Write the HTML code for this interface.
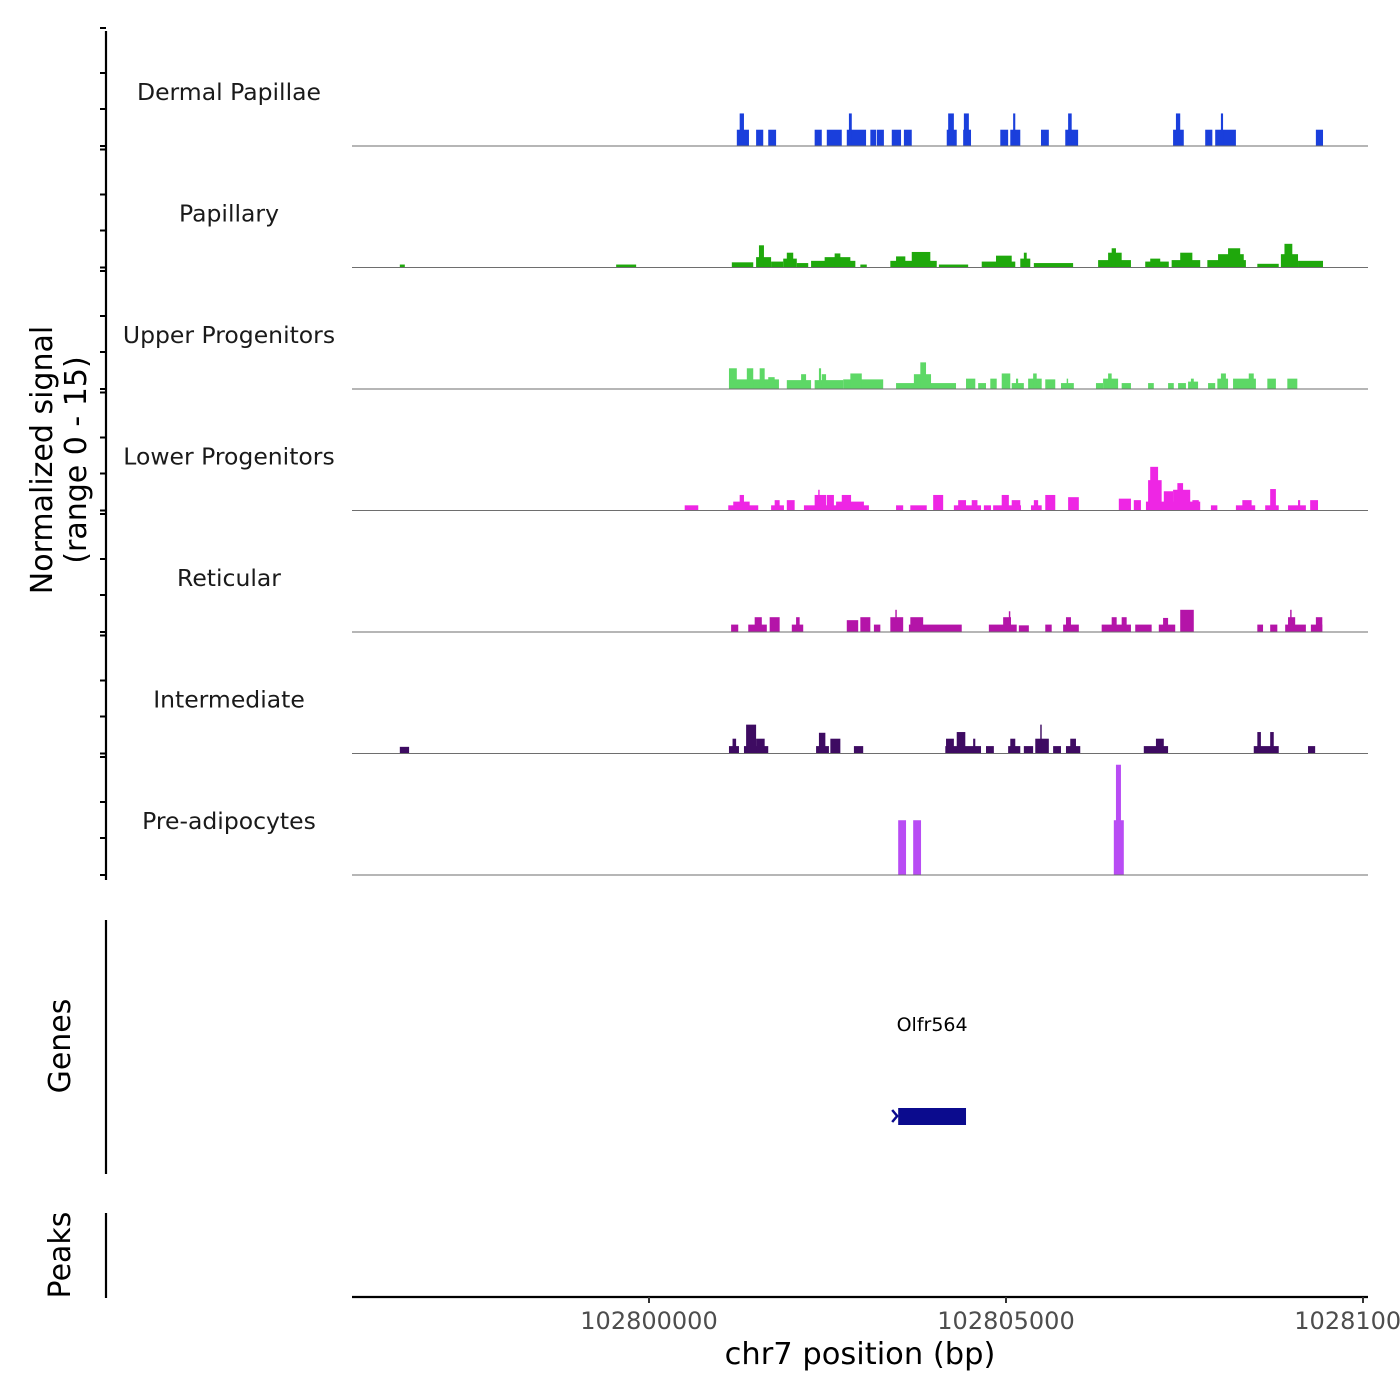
<!DOCTYPE html>
<html><head><meta charset="utf-8"><style>
body{margin:0;background:#fff}
svg{display:block;font-family:"DejaVu Sans","Liberation Sans",sans-serif}
</style></head><body>
<svg id="chart" width="1400" height="1400" viewBox="0 0 1400 1400">
<g id="marks"></g>
<g id="axes"></g>
</svg>
<script>
// Data: positions in kb relative to chr7:102800000; values = normalized signal (0-15)
const trackNames=["Dermal Papillae","Papillary","Upper Progenitors","Lower Progenitors","Reticular","Intermediate","Pre-adipocytes"];
const trackColors=["#1a3fdc","#1fa80c","#5dd866","#ee26e4","#b414a8","#3e0b62","#b84cf4"];
const dpStart=[1.23,1.27,1.50,1.67,2.32,2.49,2.77,2.80,3.10,3.19,3.40,3.57,4.17,4.19,4.40,4.41,4.92,5.06,5.10,5.49,5.83,5.87,7.34,7.38,7.79,7.93,8.01,9.34];
const dpEnd=[1.40,1.33,1.60,1.78,2.42,2.70,3.04,2.84,3.18,3.29,3.53,3.68,4.31,4.27,4.51,4.48,5.03,5.20,5.13,5.60,6.01,5.92,7.49,7.44,7.89,8.22,8.04,9.44];
const dpVal=[2.2,4.4,2.2,2.2,2.2,2.2,2.2,4.4,2.2,2.2,2.2,2.2,2.2,4.4,2.2,4.4,2.2,2.2,4.4,2.2,2.2,4.4,2.2,4.4,2.2,2.2,4.4,2.2];
const paStart=[-3.49,-0.46,1.16,1.50,1.54,1.71,1.88,1.93,2.07,2.27,2.46,2.60,2.96,3.38,3.46,3.68,4.06,4.66,4.86,5.20,5.25,5.39,6.29,6.43,6.48,6.95,7.02,7.32,7.44,7.82,7.97,8.11,8.52,8.85,8.90,9.09];
const paEnd=[-3.42,-0.18,1.46,1.71,1.61,1.88,2.07,2.02,2.23,2.89,2.82,2.68,3.05,4.03,3.59,3.94,4.47,5.13,5.08,5.34,5.29,5.94,6.75,6.62,6.54,7.28,7.16,7.72,7.61,8.36,8.33,8.28,8.82,9.09,9.01,9.44];
const paVal=[0.4,0.4,0.7,1.4,3.0,0.8,1.2,2.0,0.6,0.9,1.4,1.9,0.4,0.9,1.5,2.1,0.4,0.8,1.6,1.2,2.0,0.6,1.0,2.0,2.6,0.8,1.2,1.0,2.0,1.0,1.8,2.6,0.5,1.8,3.2,0.9];
const upStart=[1.12,1.12,1.37,1.55,1.67,1.93,2.13,2.32,2.38,2.42,2.72,2.82,3.46,3.71,3.80,4.44,4.61,4.78,4.94,5.08,5.14,5.31,5.38,5.55,5.77,5.85,6.26,6.36,6.43,6.62,6.99,7.27,7.41,7.55,7.59,7.83,7.96,8.01,8.18,8.40,8.66,8.94];
const upEnd=[1.82,1.23,1.46,1.62,1.76,2.27,2.20,2.72,2.41,2.48,3.28,2.98,4.30,3.95,3.88,4.57,4.72,4.87,5.06,5.25,5.17,5.50,5.43,5.69,5.95,5.87,6.36,6.57,6.48,6.75,7.07,7.35,7.52,7.69,7.63,7.93,8.11,8.08,8.50,8.47,8.78,9.08];
const upVal=[1.3,2.8,2.8,2.8,1.6,1.2,2.0,1.2,2.8,2.0,1.3,2.1,0.8,2.0,3.6,1.4,0.8,1.4,2.1,0.8,1.4,1.4,2.1,1.3,0.8,1.4,0.8,1.4,2.1,0.8,0.8,0.8,0.8,1.0,1.4,0.8,1.4,2.1,1.4,2.1,1.4,1.4];
const lpStart=[0.50,1.11,1.18,1.27,1.71,1.76,1.93,2.17,2.32,2.37,2.49,2.70,2.62,3.46,3.66,3.98,4.27,4.33,4.52,4.69,4.82,4.94,5.08,5.35,5.39,5.55,5.87,6.58,6.79,6.96,6.99,7.02,7.21,7.34,7.40,7.61,7.87,8.22,8.31,8.63,8.70,8.95,9.09,9.26];
const lpEnd=[0.69,1.53,1.41,1.33,1.89,1.83,2.04,3.08,2.48,2.39,2.59,2.83,3.01,3.56,3.89,4.12,4.65,4.44,4.60,4.79,5.21,5.04,5.20,5.50,5.45,5.69,6.02,6.75,6.89,7.72,7.18,7.13,7.34,7.58,7.48,7.70,7.96,8.49,8.44,8.82,8.78,9.20,9.12,9.37];
const lpVal=[0.7,0.7,1.2,2.1,0.7,1.4,1.4,0.7,2.1,2.8,2.1,2.1,1.2,0.7,0.7,2.1,0.7,1.4,1.4,0.7,0.7,2.1,1.4,0.7,1.4,2.1,1.8,1.6,1.4,1.2,4.1,5.9,2.6,2.8,3.7,1.4,0.7,0.7,1.4,0.7,2.9,0.7,1.4,1.4];
const reStart=[1.15,1.39,1.48,1.69,2.00,2.06,2.77,2.96,3.15,3.38,3.45,3.64,3.66,4.76,4.86,4.96,5.04,5.18,5.55,5.80,5.84,6.34,6.48,6.62,6.81,7.14,7.20,7.44,8.52,8.70,8.91,8.95,8.98,9.27,9.34];
const reEnd=[1.25,1.65,1.58,1.83,2.16,2.11,2.93,3.10,3.24,3.56,3.47,4.38,3.84,4.86,5.15,5.07,5.06,5.32,5.64,6.02,5.91,6.75,6.55,6.69,7.04,7.37,7.27,7.63,8.60,8.80,9.20,9.05,9.00,9.43,9.43];
const reVal=[1.0,1.0,2.0,2.0,1.0,2.0,1.6,2.0,1.0,2.0,3.0,1.0,2.0,1.0,1.0,2.0,2.8,0.9,1.0,1.0,2.0,1.0,2.0,2.0,1.0,1.0,1.9,3.0,1.0,1.0,1.0,2.0,3.0,1.0,2.0];
const inStart=[-3.49,1.12,1.17,1.33,1.36,1.50,2.34,2.38,2.54,2.87,4.15,4.16,4.31,4.54,4.72,5.03,5.06,5.25,5.41,5.48,5.66,5.84,5.90,6.93,7.10,8.47,8.52,8.70,9.23];
const inEnd=[-3.36,1.26,1.22,1.67,1.50,1.62,2.52,2.47,2.68,3.00,4.65,4.27,4.43,4.57,4.83,5.20,5.13,5.38,5.60,5.50,5.77,6.04,5.98,7.27,7.21,8.82,8.57,8.75,9.33];
const inVal=[0.9,1.0,2.0,1.0,3.9,2.0,1.0,2.8,2.0,1.0,1.0,2.0,2.9,2.0,1.0,1.0,2.0,1.0,2.0,3.9,1.0,1.0,2.0,1.0,2.0,1.0,2.9,2.9,1.0];
const prStart=[3.49,3.70,6.51,6.54];
const prEnd=[3.60,3.81,6.65,6.61];
const prVal=[7.4,7.4,7.4,14.9];
const xTicks=[0,5,10];
const xTickLabels=["102800000","102805000","102810000"];
const geneStart=3.49, geneEnd=4.44, geneName="Olfr564";

const starts=[dpStart,paStart,upStart,lpStart,reStart,inStart,prStart];
const ends=[dpEnd,paEnd,upEnd,lpEnd,reEnd,inEnd,prEnd];
const vals=[dpVal,paVal,upVal,lpVal,reVal,inVal,prVal];

const NS="http://www.w3.org/2000/svg";
const X0=352,X1=1368;
function xs(kb){return 649+kb*71.4;}
function base(i){return 146+i*121.5;}
function ys(v,i){return base(i)-v*7.4;}
function mk(tag,attrs,parent){const e=document.createElementNS(NS,tag);for(const k in attrs)e.setAttribute(k,attrs[k]);parent.appendChild(e);return e;}
const marks=document.getElementById('marks');
const axes=document.getElementById('axes');

for(let i=0;i<trackNames.length;i++){
  const g=mk('g',{},marks);
  
  
  for(let j=0;j<starts[i].length;j++){
    const x1=Math.max(X0,xs(starts[i][j])),x2=Math.min(X1,xs(ends[i][j]));
    const r=mk('rect',{x:x1,y:ys(vals[i][j],i),width:Math.max(0.8,x2-x1),height:vals[i][j]*7.4,fill:trackColors[i]},g);
    
    
  }
  const bl=mk('line',{x1:X0,x2:X1,y1:base(i),y2:base(i),stroke:'#6e6e6e','stroke-width':1},g);
  
  
  const t=mk('text',{x:229,y:base(i)-46,'text-anchor':'middle','font-size':'23.5',fill:'#1a1a1a'},g);
  t.textContent=trackNames[i];
  
  
  [0,37,73,118].forEach(d=>{
    const tk=mk('line',{x1:100,x2:106,y1:base(i)-d,y2:base(i)-d,stroke:'#000','stroke-width':2},axes);
    
    
  });
}
let l=mk('line',{x1:106,x2:106,y1:31,y2:880,stroke:'#000','stroke-width':2.2},axes);


l=mk('line',{x1:106,x2:106,y1:920,y2:1174,stroke:'#000','stroke-width':2.2},axes);


l=mk('line',{x1:106,x2:106,y1:1213,y2:1298,stroke:'#000','stroke-width':2.2},axes);


let yt=mk('text',{transform:'translate(52,460) rotate(-90)','text-anchor':'middle','font-size':'30',fill:'#000'},axes);


let ts=mk('tspan',{x:0,y:0},yt);ts.textContent='Normalized signal';
ts=mk('tspan',{x:0,y:34},yt);ts.textContent='(range 0 - 15)';
let gt=mk('text',{transform:'translate(70,1046) rotate(-90)','text-anchor':'middle','font-size':'30',fill:'#000'},axes);
gt.textContent='Genes';


let pt=mk('text',{transform:'translate(70,1255) rotate(-90)','text-anchor':'middle','font-size':'30',fill:'#000'},axes);
pt.textContent='Peaks';


const gr=mk('rect',{x:xs(geneStart),y:1108,width:xs(geneEnd)-xs(geneStart),height:17,fill:'#0b0b8e'},marks);


const ga=mk('path',{d:'M'+(xs(geneStart)-6)+' 1110 L'+(xs(geneStart)-1)+' 1116 L'+(xs(geneStart)-6)+' 1122',stroke:'#0b0b8e','stroke-width':2.5,fill:'none'},marks);


const gl=mk('text',{x:(xs(geneStart)+xs(geneEnd))/2,y:1031,'text-anchor':'middle','font-size':'19',fill:'#000'},marks);
gl.textContent=geneName;


l=mk('line',{x1:X0,x2:X1,y1:1297,y2:1297,stroke:'#000','stroke-width':2.2},axes);


xTicks.forEach((t,k)=>{
  const tk=mk('line',{x1:xs(t),x2:xs(t),y1:1297,y2:1303,stroke:'#333','stroke-width':2},axes);
  
  
  const tl=mk('text',{x:xs(t),y:1329,'text-anchor':'middle','font-size':'24',fill:'#4d4d4d'},axes);
  tl.textContent=xTickLabels[k];
  
  
});
const xt=mk('text',{x:860,y:1364,'text-anchor':'middle','font-size':'30.5',fill:'#000'},axes);
xt.textContent='chr7 position (bp)';


</script>
</body></html>
